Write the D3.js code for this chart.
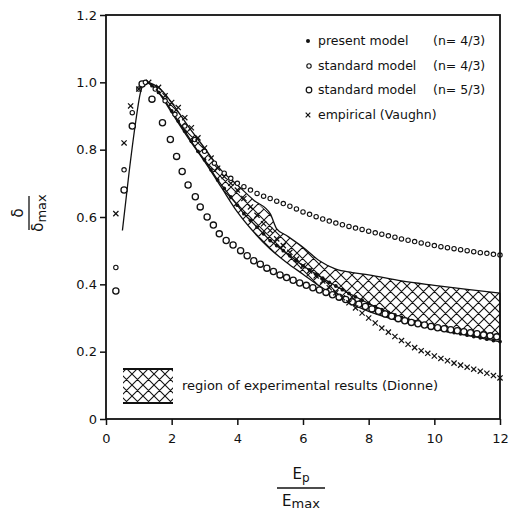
<!DOCTYPE html>
<html lang="en">
<head>
    <meta charset="UTF-8">
    <title>Normalized secondary emission yield</title>
    <script src="https://d3js.org/d3.v7.min.js"></script>
    <style>
        body {
            margin: 0;
            background: #fff;
        }
        text {
            font-family: "DejaVu Sans", Arial, sans-serif;
            fill: #111;
        }
        .tick text {
            font-size: 13px;
        }
        .legend-text {
            font-size: 12.5px;
        }
    </style>
</head>
<body>
    <div id="chart"></div>

    <script>
        // tick labels
        const xTicks = [0, 2, 4, 6, 8, 10, 12];
        const yTicks = [0, 0.2, 0.4, 0.6, 0.8, 1.0, 1.2];
        const yTickLabels = ["0", "0.2", "0.4", "0.6", "0.8", "1.0", "1.2"];

        // present model (n = 4/3): line, with dots after the peak
        const presentX = [0.5, 0.7, 0.9, 1.05, 1.2, 1.4, 1.6, 1.8, 2.0, 2.2, 2.4, 2.6, 2.8, 3.0, 3.2, 3.4, 3.6, 3.8, 4.0,
            4.2, 4.4, 4.6, 4.8, 5.0, 5.2, 5.4, 5.6, 5.8, 6.0, 6.2, 6.4, 6.6, 6.8, 7.0, 7.2, 7.4, 7.6, 7.8, 8.0,
            8.2, 8.4, 8.6, 8.8, 9.0, 9.2, 9.4, 9.6, 9.8, 10.0, 10.2, 10.4, 10.6, 10.8, 11.0, 11.2, 11.4, 11.6, 11.8, 12.0];
        const presentY = [0.56, 0.73, 0.88, 0.97, 1.0, 0.99, 0.97, 0.945, 0.915, 0.885, 0.855, 0.825, 0.795, 0.77, 0.74, 0.71, 0.685, 0.66, 0.635,
            0.61, 0.59, 0.57, 0.55, 0.53, 0.515, 0.5, 0.485, 0.47, 0.455, 0.443, 0.43, 0.418, 0.406, 0.395, 0.384, 0.373, 0.363, 0.353, 0.343,
            0.334, 0.325, 0.317, 0.309, 0.302, 0.295, 0.289, 0.283, 0.277, 0.272, 0.267, 0.262, 0.257, 0.253, 0.249, 0.245, 0.241, 0.237, 0.233, 0.23];

        // standard model (n = 4/3): small circles
        const std43X = [0.3, 0.55, 0.8, 1.0, 1.2, 1.5, 1.8, 2.1, 2.4, 2.7, 3.0, 3.3, 3.6, 3.8, 4.0,
            4.2, 4.4, 4.6, 4.8, 5.0, 5.2, 5.4, 5.6, 5.8, 6.0, 6.2, 6.4, 6.6, 6.8, 7.0, 7.2, 7.4, 7.6, 7.8, 8.0,
            8.2, 8.4, 8.6, 8.8, 9.0, 9.2, 9.4, 9.6, 9.8, 10.0, 10.2, 10.4, 10.6, 10.8, 11.0, 11.2, 11.4, 11.6, 11.8, 12.0];
        const std43Y = [0.45, 0.74, 0.91, 0.98, 1.0, 0.98, 0.945, 0.905, 0.87, 0.83, 0.795, 0.76, 0.73, 0.715, 0.70,
            0.69, 0.68, 0.67, 0.662, 0.655, 0.647, 0.64, 0.632, 0.624, 0.615, 0.608, 0.601, 0.594, 0.588, 0.582, 0.577, 0.572, 0.567, 0.563, 0.558,
            0.553, 0.549, 0.544, 0.54, 0.535, 0.531, 0.527, 0.523, 0.519, 0.515, 0.512, 0.509, 0.506, 0.503, 0.5, 0.497, 0.494, 0.492, 0.489, 0.487];

        // standard model (n = 5/3): larger circles
        const std53X = [0.3, 0.55, 0.8, 1.1, 1.4, 1.72, 1.96, 2.15, 2.32, 2.5, 2.72, 2.87, 3.08, 3.27, 3.45, 3.66, 3.87,
            4.1, 4.3, 4.5, 4.7, 4.9, 5.1, 5.3, 5.5, 5.7, 5.9, 6.1, 6.3, 6.5, 6.7, 6.9, 7.1, 7.3, 7.5, 7.7, 7.9,
            8.1, 8.3, 8.5, 8.7, 8.9, 9.1, 9.3, 9.5, 9.7, 9.9, 10.1, 10.3, 10.5, 10.7, 10.9, 11.1, 11.3, 11.5, 11.7, 11.9];
        const std53Y = [0.38, 0.68, 0.87, 0.995, 0.95, 0.88, 0.83, 0.78, 0.735, 0.695, 0.66, 0.63, 0.6, 0.576, 0.55, 0.53, 0.517,
            0.5, 0.485, 0.47, 0.46, 0.448, 0.438, 0.428, 0.42, 0.412, 0.404, 0.397, 0.39, 0.383, 0.376, 0.369, 0.362, 0.355, 0.348, 0.341, 0.334,
            0.327, 0.32, 0.312, 0.305, 0.298, 0.292, 0.287, 0.283, 0.279, 0.275, 0.271, 0.268, 0.265, 0.262, 0.259, 0.256, 0.253, 0.25, 0.247, 0.244];

        // empirical (Vaughn): crosses
        const vaughnX = [0.3, 0.55, 0.75, 1.0, 1.3, 1.6, 1.8, 2.0, 2.2, 2.4, 2.6, 2.8, 3.0, 3.2, 3.4, 3.6, 3.8, 4.0,
            4.2, 4.4, 4.6, 4.8, 5.0, 5.2, 5.4, 5.6, 5.8, 6.0, 6.2, 6.4, 6.6, 6.8, 7.0, 7.2, 7.4, 7.6, 7.8, 8.0,
            8.2, 8.4, 8.6, 8.8, 9.0, 9.2, 9.4, 9.6, 9.8, 10.0, 10.2, 10.4, 10.6, 10.8, 11.0, 11.2, 11.4, 11.6, 11.8, 12.0];
        const vaughnY = [0.61, 0.82, 0.93, 0.98, 1.0, 0.985, 0.96, 0.94, 0.925, 0.895, 0.865, 0.835, 0.805, 0.775, 0.745, 0.72, 0.7, 0.68,
            0.655, 0.63, 0.605, 0.58, 0.56, 0.535, 0.515, 0.495, 0.475, 0.455, 0.44, 0.425, 0.41, 0.39, 0.375, 0.36, 0.345, 0.33, 0.315, 0.3,
            0.285, 0.27, 0.258, 0.245, 0.233, 0.222, 0.212, 0.203, 0.195, 0.187, 0.18, 0.173, 0.166, 0.16, 0.154, 0.148, 0.142, 0.136, 0.129, 0.122];

        // region of experimental results (Dionne)
        const dionneUpperX = [1.3, 1.6, 2.0, 2.5, 3.0, 3.5, 4.0, 4.5, 5.0, 5.2, 5.5, 6.0, 6.5, 7.0, 7.5, 8.0, 9.0, 10.0, 11.0, 12.0];
        const dionneUpperY = [1.0, 0.985, 0.94, 0.87, 0.805, 0.74, 0.695, 0.65, 0.61, 0.565, 0.545, 0.51, 0.47, 0.445, 0.435, 0.428, 0.41, 0.397, 0.385, 0.374];
        const dionneLowerX = [1.3, 1.6, 2.0, 2.5, 3.0, 3.5, 4.0, 4.5, 5.0, 5.5, 6.0, 6.5, 7.0, 7.5, 8.0, 9.0, 10.0, 11.0, 12.0];
        const dionneLowerY = [1.0, 0.97, 0.91, 0.835, 0.765, 0.69, 0.615, 0.555, 0.505, 0.465, 0.43, 0.395, 0.365, 0.34, 0.32, 0.29, 0.27, 0.255, 0.243];

        const legendLabels = ["present model", "standard model", "standard model", "empirical (Vaughn)"];
        const legendN = ["(n= 4/3)", "(n= 4/3)", "(n= 5/3)", ""];

        const width = 509;
        const height = 515;

        const x = d3.scaleLinear().domain([0, 12]).range([106, 500]);
        const y = d3.scaleLinear().domain([0, 1.2]).range([419, 15]);

        const svg = d3.select("#chart")
            .append("svg")
            .attr("width", width)
            .attr("height", height);

        // crosshatch pattern
        const defs = svg.append("defs");
        const pat = defs.append("pattern")
            .attr("id", "hatch")
            .attr("patternUnits", "userSpaceOnUse")
            .attr("width", 11)
            .attr("height", 11);
        pat.append("path")
            .attr("d", "M0,0L11,11M11,0L0,11M-2,2L2,-2M9,13L13,9M-2,9L2,13M9,-2L13,2")
            .attr("stroke", "#111")
            .attr("stroke-width", 1.1);

        const toPts = (xs, ys) => xs.map((d, i) => [d, ys[i]]);
        const line = d3.line().x(d => x(d[0])).y(d => y(d[1])).curve(d3.curveMonotoneX);

        // hatched region
        const upper = toPts(dionneUpperX, dionneUpperY);
        const lower = toPts(dionneLowerX, dionneLowerY);
        const area = d3.line().x(d => x(d[0])).y(d => y(d[1])).curve(d3.curveLinear);
        svg.append("path")
            .attr("d", area(upper.concat(lower.slice().reverse())) + "Z")
            .attr("fill", "url(#hatch)")
            .attr("stroke", "none");
        [upper, lower].forEach(pts => {
            svg.append("path")
                .attr("d", line(pts))
                .attr("fill", "none")
                .attr("stroke", "#111")
                .attr("stroke-width", 1.3);
        });
        // right edge of region
        svg.append("line")
            .attr("x1", x(12)).attr("x2", x(12))
            .attr("y1", y(dionneUpperY[dionneUpperY.length - 1]))
            .attr("y2", y(dionneLowerY[dionneLowerY.length - 1]))
            .attr("stroke", "#111");

        // present model line
        const present = toPts(presentX, presentY);
        svg.append("path")
            .attr("d", line(present))
            .attr("fill", "none")
            .attr("stroke", "#111")
            .attr("stroke-width", 1.3);

        svg.append("g").selectAll("circle")
            .data(present.filter(d => d[0] >= 1.2))
            .enter()
            .append("circle")
            .attr("cx", d => x(d[0]))
            .attr("cy", d => y(d[1]))
            .attr("r", 1.9)
            .attr("fill", "#111");

        // standard models
        svg.append("g").selectAll("circle")
            .data(toPts(std53X, std53Y))
            .enter()
            .append("circle")
            .attr("cx", d => x(d[0]))
            .attr("cy", d => y(d[1]))
            .attr("r", 3.1)
            .attr("fill", "#fff")
            .attr("stroke", "#111")
            .attr("stroke-width", 1.3);

        svg.append("g").selectAll("circle")
            .data(toPts(std43X, std43Y))
            .enter()
            .append("circle")
            .attr("cx", d => x(d[0]))
            .attr("cy", d => y(d[1]))
            .attr("r", 2.2)
            .attr("fill", "#fff")
            .attr("stroke", "#111")
            .attr("stroke-width", 1.1);

        // empirical crosses
        const cross = s => `M${-s},${-s}L${s},${s}M${s},${-s}L${-s},${s}`;
        svg.append("g").selectAll("path")
            .data(toPts(vaughnX, vaughnY))
            .enter()
            .append("path")
            .attr("transform", d => `translate(${x(d[0])},${y(d[1])})`)
            .attr("d", cross(2.6))
            .attr("stroke", "#111")
            .attr("stroke-width", 1.2);

        // axes and frame
        const xAxis = svg.append("g")
            .attr("transform", `translate(0,${y(0)})`)
            .call(d3.axisBottom(x).tickValues(xTicks).tickSize(6).tickPadding(9).tickFormat(d3.format("d")));
        const yAxis = svg.append("g")
            .attr("transform", `translate(${x(0)},0)`)
            .call(d3.axisLeft(y).tickValues(yTicks).tickSize(6).tickPadding(3)
                .tickFormat((d, i) => yTickLabels[i]));
        [xAxis, yAxis].forEach(g => {
            g.select(".domain").remove();
            g.selectAll(".tick line").attr("stroke", "#111").attr("stroke-width", 1.5);
            g.selectAll(".tick text").attr("fill", "#111");
        });

        svg.append("rect")
            .attr("x", x(0))
            .attr("y", y(1.2))
            .attr("width", x(12) - x(0))
            .attr("height", y(0) - y(1.2))
            .attr("fill", "none")
            .attr("stroke", "#111")
            .attr("stroke-width", 1.8);

        // legend
        const legendRows = [45, 70, 94, 119];
        const lg = svg.append("g");
        legendLabels.forEach((label, i) => {
            const yy = legendRows[i];
            lg.append("text").attr("class", "legend-text").attr("x", 318).attr("y", yy).text(label);
            if (legendN[i]) {
                lg.append("text").attr("class", "legend-text").attr("x", 433).attr("y", yy).text(legendN[i]);
            }
        });
        lg.append("circle").attr("cx", 308).attr("cy", legendRows[0] - 4).attr("r", 2).attr("fill", "#111");
        lg.append("circle").attr("cx", 309).attr("cy", legendRows[1] - 4).attr("r", 2.2)
            .attr("fill", "#fff").attr("stroke", "#111").attr("stroke-width", 1.1);
        lg.append("circle").attr("cx", 309).attr("cy", legendRows[2] - 4).attr("r", 2.8)
            .attr("fill", "#fff").attr("stroke", "#111").attr("stroke-width", 1.2);
        lg.append("path").attr("transform", `translate(308,${legendRows[3] - 4})`)
            .attr("d", cross(2.3)).attr("stroke", "#111").attr("stroke-width", 1.2);

        // hatched legend box
        svg.append("rect")
            .attr("x", 123).attr("y", 369).attr("width", 50).attr("height", 34)
            .attr("fill", "url(#hatch)");
        svg.append("line").attr("x1", 123).attr("x2", 173).attr("y1", 369).attr("y2", 369)
            .attr("stroke", "#111").attr("stroke-width", 1.8);
        svg.append("line").attr("x1", 123).attr("x2", 173).attr("y1", 403).attr("y2", 403)
            .attr("stroke", "#111").attr("stroke-width", 1.8);
        svg.append("text").attr("class", "legend-text")
            .attr("x", 182).attr("y", 390)
            .style("font-size", "13px")
            .text("region of experimental results (Dionne)");

        // y label: delta / delta_max (rotated)
        const yl = svg.append("g").attr("transform", "translate(29,213) rotate(-90)");
        yl.append("text").attr("x", 0).attr("y", -6).attr("text-anchor", "middle")
            .style("font-size", "15px").text("δ");
        yl.append("line").attr("x1", -17).attr("x2", 17).attr("y1", 0).attr("y2", 0)
            .attr("stroke", "#111").attr("stroke-width", 1.3);
        const den = yl.append("text").attr("x", 0).attr("y", 14).attr("text-anchor", "middle")
            .style("font-size", "15px");
        den.append("tspan").text("δ");
        den.append("tspan").attr("dy", 3).style("font-size", "13px").text("max");

        // x label: Ep / Emax
        const xl = svg.append("g").attr("transform", "translate(301,488)");
        const num = xl.append("text").attr("x", 0).attr("y", -9).attr("text-anchor", "middle")
            .style("font-size", "15px");
        num.append("tspan").text("E");
        num.append("tspan").attr("dy", 3).style("font-size", "12px").text("p");
        xl.append("line").attr("x1", -24).attr("x2", 24).attr("y1", 0).attr("y2", 0)
            .attr("stroke", "#111").attr("stroke-width", 1.3);
        const xden = xl.append("text").attr("x", 0).attr("y", 18).attr("text-anchor", "middle")
            .style("font-size", "15px");
        xden.append("tspan").text("E");
        xden.append("tspan").attr("dy", 2).style("font-size", "13px").text("max");
    </script>
</body>
</html>
